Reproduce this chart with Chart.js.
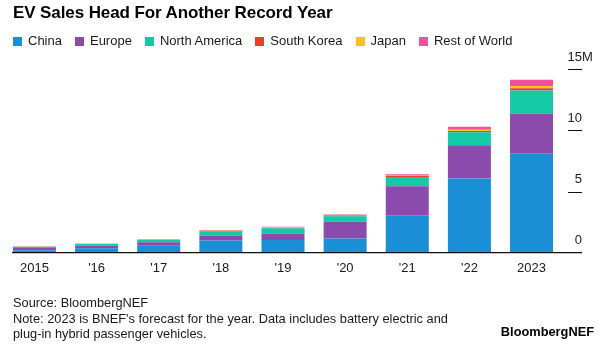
<!DOCTYPE html>
<html>
<head>
<meta charset="utf-8">
<script src="https://cdn.jsdelivr.net/npm/chart.js@4.4.0/dist/chart.umd.min.js"></script>
<style>
  html, body { margin: 0; padding: 0; background: #fff; }
  #wrap { position: relative; width: 600px; height: 345px; overflow: hidden; font-family: "Liberation Sans", Arial, sans-serif; color: #1a1a1a; }
  #chart { position: absolute; left: 0; top: 0; }
  #title { position: absolute; left: 13px; top: 2.5px; font-size: 17px; line-height: 20px; font-weight: bold; color: #000; letter-spacing: -0.1px; white-space: nowrap; }
  #legend { position: absolute; left: 13px; top: 33px; display: flex; align-items: center; font-size: 13px; line-height: 16px; white-space: nowrap; }
  #legend .item { display: flex; align-items: center; margin-right: 13px; }
  #legend .box { width: 9px; height: 9px; margin-right: 6px; }
  #foot { position: absolute; left: 13px; top: 295px; font-size: 12.8px; line-height: 15.5px; white-space: nowrap; }
  #brand { position: absolute; right: 6px; top: 324px; font-size: 12.8px; line-height: 15.5px; font-weight: bold; color: #000; }
</style>
</head>
<body>
<div id="wrap">
  <canvas id="chart" width="600" height="345"></canvas>
  <div id="title">EV Sales Head For Another Record Year</div>
  <div id="legend"></div>
  <div id="foot">Source: BloombergNEF<br>Note: 2023 is BNEF's forecast for the year. Data includes battery electric and<br>plug-in hybrid passenger vehicles.</div>
  <div id="brand">BloombergNEF</div>
</div>
<script>
// ---- data (millions of vehicles) ----
const years = ['2015', "'16", "'17", "'18", "'19", "'20", "'21", "'22", '2023'];
const china        = [0.20, 0.37, 0.56, 1.00, 1.03, 1.17, 3.07, 6.06, 8.10];
const europe       = [0.18, 0.20, 0.29, 0.38, 0.55, 1.36, 2.37, 2.72, 3.26];
const northAmerica = [0.10, 0.14, 0.20, 0.38, 0.41, 0.46, 0.76, 1.08, 1.90];
const southKorea   = [0.01, 0.01, 0.02, 0.03, 0.04, 0.05, 0.09, 0.10, 0.18];
const japan        = [0.02, 0.02, 0.02, 0.03, 0.03, 0.03, 0.04, 0.10, 0.20];
const restOfWorld  = [0.01, 0.01, 0.02, 0.03, 0.07, 0.06, 0.08, 0.25, 0.50];
const seriesNames  = ['China', 'Europe', 'North America', 'South Korea', 'Japan', 'Rest of World'];
const yTickValues  = [0, 5, 10, 15];
const yUnit = 'M';

// ---- styles ----
const seriesColors = ['#1a8fd5', '#8a4bad', '#14c9a5', '#e8402c', '#f7c41c', '#e8539c'];
const FONT = '"Liberation Sans", Arial, sans-serif';
Chart.defaults.font.family = FONT;

const seriesData = [china, europe, northAmerica, southKorea, japan, restOfWorld];
const datasets = seriesNames.map((name, i) => ({
  label: name,
  data: seriesData[i],
  backgroundColor: seriesColors[i],
  borderWidth: 0,
  barPercentage: 0.692,
  categoryPercentage: 1.0
}));

const axisDecor = {
  id: 'axisDecor',
  afterDraw(chart) {
    const { ctx } = chart;
    const y = chart.scales.y;
    ctx.save();
    ctx.strokeStyle = '#111';
    ctx.lineWidth = 1.2;
    const y0 = y.getPixelForValue(0);
    ctx.beginPath();
    ctx.moveTo(12, y0);
    ctx.lineTo(y.right, y0);
    ctx.stroke();
    ctx.lineWidth = 1;
    y.ticks.forEach(t => {
      if (t.value === 0) return;
      const py = Math.round(y.getPixelForValue(t.value)) + 0.5;
      ctx.beginPath();
      ctx.moveTo(y.right - 14, py);
      ctx.lineTo(y.right, py);
      ctx.stroke();
    });
    const topTick = y.ticks[y.ticks.length - 1];
    ctx.font = '13px ' + FONT;
    ctx.fillStyle = '#222';
    ctx.textAlign = 'left';
    ctx.textBaseline = 'middle';
    ctx.fillText(yUnit, y.right, y.getPixelForValue(topTick.value) - 12);
    ctx.restore();
  }
};

const chart = new Chart(document.getElementById('chart'), {
  type: 'bar',
  data: { labels: years, datasets },
  options: {
    responsive: false,
    animation: false,
    devicePixelRatio: 1,
    layout: { padding: { left: 3.4, right: 18, top: 69.3, bottom: 64.3 } },
    plugins: {
      legend: { display: false },
      title: { display: false },
      tooltip: { enabled: false }
    },
    scales: {
      x: {
        stacked: true,
        offset: true,
        grid: { display: false },
        border: { display: false },
        ticks: { color: '#1a1a1a', font: { size: 13 }, padding: 0, maxRotation: 0, autoSkip: false },
        afterFit: s => { s.height = 28; }
      },
      y: {
        stacked: true,
        position: 'right',
        min: 0,
        max: 15,
        afterBuildTicks: s => { s.ticks = yTickValues.map(v => ({ value: v })); },
        grid: { display: false },
        border: { display: false },
        ticks: {
          color: '#222',
          font: { size: 13 },
          crossAlign: 'far',
          padding: 4.9,
          labelOffset: -12,
          callback: v => String(v)
        },
        afterFit: s => { s.width = 19.4; }
      }
    }
  },
  plugins: [axisDecor]
});

// HTML legend generated from the chart's own legend items
const legendEl = document.getElementById('legend');
chart.options.plugins.legend.labels.generateLabels(chart).forEach(item => {
  const it = document.createElement('div');
  it.className = 'item';
  const b = document.createElement('span');
  b.className = 'box';
  b.style.background = item.fillStyle;
  const t = document.createElement('span');
  t.textContent = item.text;
  it.appendChild(b); it.appendChild(t);
  legendEl.appendChild(it);
});
</script>
</body>
</html>
